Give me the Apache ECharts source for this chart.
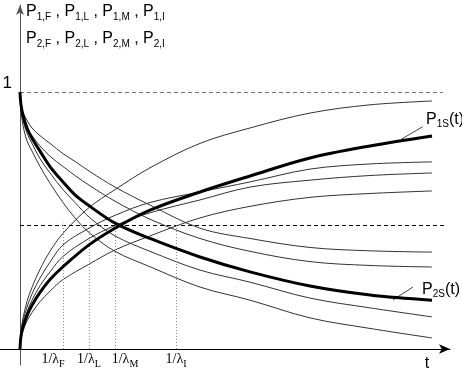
<!DOCTYPE html>
<html>
<head>
<meta charset="utf-8">
<script src="https://cdn.jsdelivr.net/npm/echarts@6/dist/echarts.min.js"></script>
<style>
  html, body { margin: 0; background: #fff; }
  #chart { width: 462px; height: 373px; }
</style>
</head>
<body>
<div id="chart"></div>
<script>
  // time points where the rising curves (P1) were read
  const tRise = [0, 0.1, 0.3, 0.7, 1.2, 2, 3, 4.3, 6.9, 9.5, 13, 18, 23, 29, 35, 41.2]
  const p1Top = [0, 0.07, 0.12, 0.185, 0.24, 0.31, 0.38, 0.45, 0.55, 0.62, 0.705, 0.80, 0.86, 0.918, 0.95, 0.965]
  const p1A = [0, 0.06, 0.107, 0.163, 0.214, 0.276, 0.338, 0.405, 0.47, 0.52, 0.57, 0.611, 0.65, 0.70, 0.72, 0.728]
  const p1B = [0, 0.055, 0.095, 0.145, 0.19, 0.246, 0.30, 0.36, 0.43, 0.48, 0.53, 0.58, 0.63, 0.657, 0.675, 0.685]
  const p1C = [0, 0.041, 0.071, 0.109, 0.142, 0.184, 0.225, 0.27, 0.33, 0.385, 0.44, 0.51, 0.555, 0.59, 0.605, 0.615]
  const p1S = [0, 0.05, 0.085, 0.13, 0.17, 0.22, 0.27, 0.32, 0.405, 0.47, 0.54, 0.611, 0.673, 0.743, 0.79, 0.829]

  // time points where the falling curves (P2) were read
  const tFall = [0, 0.1, 0.3, 0.7, 1.2, 2, 3, 4.3, 5.5, 7, 9.5, 13, 18, 23, 29, 35, 41.2]
  const p2Top = [1, 0.95, 0.92, 0.89, 0.86, 0.83, 0.80, 0.76, 0.73, 0.69, 0.63, 0.56, 0.47, 0.43, 0.395, 0.382, 0.377]
  const p2A = [1, 0.94, 0.90, 0.86, 0.83, 0.79, 0.75, 0.71, 0.675, 0.635, 0.575, 0.505, 0.43, 0.38, 0.34, 0.325, 0.319]
  const p2B = [1, 0.94, 0.89, 0.84, 0.80, 0.74, 0.685, 0.62, 0.57, 0.51, 0.44, 0.38, 0.307, 0.26, 0.198, 0.16, 0.125]
  const p2C = [1, 0.93, 0.87, 0.81, 0.77, 0.71, 0.645, 0.57, 0.51, 0.45, 0.38, 0.32, 0.241, 0.19, 0.121, 0.08, 0.043]
  const p2S = [1, 0.95, 0.91, 0.86, 0.82, 0.77, 0.71, 0.65, 0.60, 0.555, 0.49, 0.43, 0.358, 0.30, 0.245, 0.21, 0.19]

  const lambdaTicks = [4.3, 6.9, 9.5, 15.6]
  const lambdaNames = ['F', 'L', 'M', 'I']
  const tTick = 40.7
  const upperLevel = 1
  const midLevel = 0.482

  const zip = (xs, ys) => xs.map((x, i) => [x, ys[i]])

  function curve(name, xs, ys, thick) {
    return {
      name: name,
      type: 'line',
      data: zip(xs, ys),
      showSymbol: false,
      smooth: 0.35,
      silent: true,
      z: thick ? 5 : 3,
      lineStyle: { color: thick ? '#000' : '#333', width: thick ? 3 : 1 }
    }
  }

  const sub = { fontSize: 10, fontWeight: 'normal', verticalAlign: 'bottom', fontFamily: 'Liberation Sans', color: '#000' }
  const big = { fontSize: 16, fontWeight: 'normal', verticalAlign: 'bottom', padding: [0, 0, 2, 0], fontFamily: 'Liberation Sans', color: '#000' }

  const headLine = n => lambdaNames.map(k => '{p|P}{s|' + n + ',' + k + '}').join('{p| , }')

  const series = [
    curve('p1Top', tRise, p1Top),
    curve('p1A', tRise, p1A),
    curve('p1B', tRise, p1B),
    curve('p1C', tRise, p1C),
    curve('p2Top', tFall, p2Top),
    curve('p2A', tFall, p2A),
    curve('p2B', tFall, p2B),
    curve('p2C', tFall, p2C),
    curve('P1S', tRise, p1S, true),
    curve('P2S', tFall, p2S, true)
  ]

  // guide lines
  series[0].markLine = {
    silent: true,
    symbol: 'none',
    label: { show: false },
    data: [
      [{ coord: [0, upperLevel], lineStyle: { type: [4, 3], color: '#777', width: 1 } }, { coord: [42.3, upperLevel] }],
      [{ coord: [0, midLevel], lineStyle: { type: [4, 3], color: '#000', width: 1 } }, { coord: [42.7, midLevel] }]
    ].concat(lambdaTicks.map(x => [
      { coord: [x, 0], lineStyle: { type: [1, 2], color: '#888', width: 1 } },
      { coord: [x, midLevel + 0.01] }
    ]))
  }

  // callouts for the thick curves
  const callout = (p, q, at, txt) => ({
    markLine: {
      silent: true,
      symbol: 'none',
      label: { show: false },
      lineStyle: { color: '#444', width: 1, type: 'solid' },
      data: [[{ coord: p }, { coord: q }]]
    },
    markPoint: {
      silent: true,
      symbolSize: 0,
      data: [{ coord: at }],
      label: {
        show: true,
        position: 'right',
        distance: 0,
        color: '#000',
        formatter: txt,
        rich: { p: big, s: sub }
      }
    }
  })
  Object.assign(series[8], callout([38.17, 0.817], [40.27, 0.865], [40.6, 0.889], '{p|P}{s|1S}{p|(t)}'))
  Object.assign(series[9], callout([37.3, 0.191], [39.3, 0.241], [40.2, 0.228], '{p|P}{s|2S}{p|(t)}'))

  // the F label sits left of its line, the M label right of it
  const lambdaLabel = i => {
    const pre = lambdaNames[i] === 'M' ? '{gap|}' : ''
    const post = lambdaNames[i] === 'F' ? '{gap|}' : ''
    return pre + '{n|1/λ}{f|' + lambdaNames[i] + '}' + post
  }

  const option = {
    animation: false,
    backgroundColor: '#fff',
    title: [
      { text: headLine(1), left: 26, top: 4, padding: 0, textStyle: { fontWeight: 'normal', rich: { p: big, s: sub } } },
      { text: headLine(2), left: 26, top: 31, padding: 0, textStyle: { fontWeight: 'normal', rich: { p: big, s: sub } } }
    ],
    grid: { left: 0, right: 12, top: 5, bottom: 8, containLabel: false, outerBoundsMode: 'none' },
    xAxis: {
      type: 'value',
      min: -2,
      max: 43,
      splitLine: { show: false },
      axisTick: { show: false },
      axisLine: {
        onZero: true,
        symbol: ['none', 'arrow'],
        symbolSize: [7, 11],
        lineStyle: { color: '#000', width: 1 }
      },
      axisLabel: {
        customValues: lambdaTicks.concat([tTick]),
        margin: -13,
        formatter: v => {
          const i = lambdaTicks.indexOf(v)
          return i < 0 ? '{t|t}' : lambdaLabel(i)
        },
        rich: {
          n: { fontFamily: 'Liberation Serif', fontSize: 14, verticalAlign: 'bottom', padding: [0, 0, 3, 0], color: '#000' },
          f: { fontFamily: 'Liberation Serif', fontSize: 10, verticalAlign: 'bottom', color: '#000' },
          gap: { width: 20 },
          t: { fontFamily: 'Liberation Sans', fontSize: 16, padding: [4, 0, 0, 0], color: '#000' }
        }
      }
    },
    yAxis: {
      type: 'value',
      min: -0.0623,
      max: 1.3385,
      splitLine: { show: false },
      axisTick: { show: false },
      axisLine: {
        onZero: true,
        symbol: ['none', 'arrow'],
        symbolSize: [6, 10],
        lineStyle: { color: '#555', width: 1 }
      },
      axisLabel: {
        customValues: [1],
        formatter: () => '1',
        margin: -12,
        verticalAlign: 'bottom',
        fontFamily: 'Liberation Sans',
        fontSize: 17,
        color: '#000'
      }
    },
    series: series
  }

  echarts.init(document.getElementById('chart')).setOption(option)
</script>
</body>
</html>
